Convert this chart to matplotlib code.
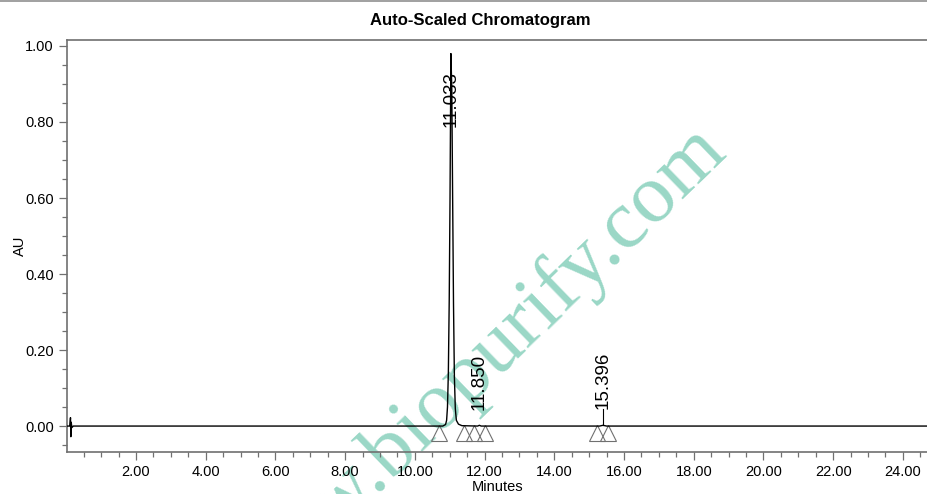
import matplotlib
matplotlib.use("Agg")
import matplotlib.pyplot as plt
from matplotlib.ticker import MultipleLocator, FormatStrFormatter
from matplotlib.lines import Line2D

plt.rcParams['font.family'] = ['Liberation Sans', 'DejaVu Sans']

# ---- data ----
trace_time = [0.02, 0.10, 0.12, 0.13, 0.14, 0.16, 0.20, 2.0, 4.0, 6.0, 8.0, 10.0,
              10.80, 10.88, 10.91, 10.935, 10.96, 10.985, 11.008, 11.033,
              11.058, 11.083, 11.108, 11.133, 11.16, 11.19, 11.25, 11.35,
              11.80, 11.85, 11.90, 15.30, 15.396, 15.50, 20.0, 24.72]
trace_au = [0.000, 0.000, 0.022, -0.028, 0.010, -0.004, 0.000, 0.000, 0.000, 0.000, 0.000, 0.000,
            0.000, 0.004, 0.015, 0.050, 0.140, 0.330, 0.600, 0.980,
            0.890, 0.600, 0.320, 0.130, 0.045, 0.015, 0.005, 0.001,
            0.000, 0.002, 0.000, 0.000, 0.002, 0.000, 0.000, 0.000]

peak_rt = [11.033, 11.850, 15.396]
peak_labels = ["11.033", "11.850", "15.396"]
label_au = [0.86, 0.115, 0.12]

integration_marks = [10.69, 11.40, 11.69, 12.00, 15.23, 15.54]

title = "Auto-Scaled Chromatogram"
xlabel = "Minutes"
ylabel = "AU"
watermark = "www.biopurify.com"

# ---- figure ----
fig = plt.figure(figsize=(9.28, 4.94), dpi=100)
ax = fig.add_axes([0.0722, 0.0856, 0.9278, 0.8344])
ax.patch.set_alpha(0.0)

ax.plot(trace_time, trace_au, color='black', lw=1.0, zorder=3)

# integration start/end marks
ax.plot(integration_marks, [-0.018] * len(integration_marks), linestyle='none',
        marker='^', markersize=11, markerfacecolor='none', markeredgecolor='#707070',
        markeredgewidth=0.8, zorder=2, clip_on=False)

# peak labels
for rt, lab, ya in zip(peak_rt, peak_labels, label_au):
    ax.text(rt, ya, lab, rotation=90, ha='center', va='center', fontsize=13.5,
            color='black', zorder=4)
# small pointer for 15.396
ax.plot([peak_rt[2], peak_rt[2]], [0.044, 0.002], color='black', lw=0.8)

ax.set_xlim(0.02, 24.72)
ax.set_ylim(-0.0675, 1.017)

ax.xaxis.set_major_locator(MultipleLocator(2))
ax.xaxis.set_minor_locator(MultipleLocator(0.5))
ax.yaxis.set_major_locator(MultipleLocator(0.2))
ax.yaxis.set_minor_locator(MultipleLocator(0.05))
ax.xaxis.set_major_formatter(FormatStrFormatter('%.2f'))
ax.yaxis.set_major_formatter(FormatStrFormatter('%.2f'))
ax.set_xticks([t for t in range(2, 25, 2)])

ax.tick_params(which='major', length=6, width=0.9, color='#707070', labelsize=10.5, direction='out')
ax.tick_params(which='minor', length=3.6, width=0.9, color='#707070', direction='out')

for s in ['left', 'bottom', 'top']:
    ax.spines[s].set_color('#707070')
    ax.spines[s].set_linewidth(1.2)
ax.spines['right'].set_visible(False)

ax.set_xlabel(xlabel, fontsize=10.5, labelpad=1)
fig.text(20 / 928, 1 - 246 / 494, ylabel, rotation=90, ha='center', va='center',
         fontsize=10.5)

fig.text(480 / 928, 1 - 20 / 494, title, ha='center', va='center', fontsize=12,
         fontweight='bold')

# frame line at the very top
fig.add_artist(Line2D([0, 1], [0.998, 0.998], transform=fig.transFigure,
                      color='#909090', lw=1.2))

# watermark (behind the plot)
fig.text(490 / 928, 1 - 386 / 494, watermark, rotation=44, rotation_mode='anchor',
         ha='center', va='baseline', fontsize=60, family='Liberation Serif',
         color='#8fd3c0', alpha=0.9, zorder=-1)

fig.savefig('out.png', dpi=100)
